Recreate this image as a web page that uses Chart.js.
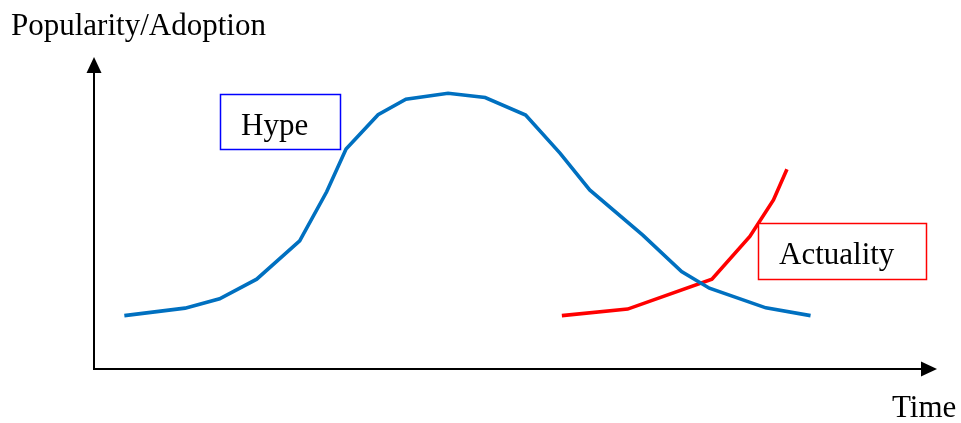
<!DOCTYPE html>
<html>
<head>
<meta charset="utf-8">
<script src="https://cdn.jsdelivr.net/npm/chart.js@4/dist/chart.umd.min.js"></script>
<style>
  html, body { margin: 0; padding: 0; background: #ffffff; }
  #wrap { width: 961px; height: 423px; position: relative; }
</style>
</head>
<body>
<div id="wrap"><canvas id="c" width="961" height="423"></canvas></div>
<script>
// Time positions (0..100) and popularity values (0..100)
const hypeTime = [3.6, 10.8, 14.9, 19.3, 24.4, 27.6, 29.9, 33.7, 37.0, 42.0, 46.4, 51.2, 55.3, 58.8, 65.1, 69.7, 73.0, 79.7, 85.0];
const hypeValues = [17.1, 19.5, 22.5, 28.8, 41.1, 56.8, 70.5, 81.5, 86.5, 88.4, 87.0, 81.4, 69.1, 57.4, 42.9, 31.2, 25.9, 19.6, 17.1];
const actualTime = [55.5, 63.3, 73.3, 77.8, 80.6, 82.2];
const actualValues = [17.1, 19.2, 28.8, 42.5, 54.2, 64.0];

const yAxisTitle = "Popularity/Adoption";
const xAxisTitle = "Time";
const hypeLabel = "Hype";
const actualLabel = "Actuality";

const FONT = "31px 'Liberation Serif', 'Times New Roman', serif";

const toPoints = (xs, ys) => xs.map((x, i) => ({ x: x, y: ys[i] }));

const decor = {
  id: 'decor',
  beforeDatasetsDraw(chart) {
    const ctx = chart.ctx;
    const a = chart.chartArea;
    ctx.save();
    ctx.strokeStyle = '#000';
    ctx.fillStyle = '#000';
    ctx.lineWidth = 2;
    // y axis
    ctx.beginPath();
    ctx.moveTo(a.left, a.bottom);
    ctx.lineTo(a.left, a.top + 14);
    ctx.stroke();
    ctx.beginPath();
    ctx.moveTo(a.left, a.top);
    ctx.lineTo(a.left - 7.5, a.top + 16);
    ctx.lineTo(a.left + 7.5, a.top + 16);
    ctx.closePath();
    ctx.fill();
    // x axis
    ctx.beginPath();
    ctx.moveTo(a.left - 1, a.bottom);
    ctx.lineTo(a.right - 14, a.bottom);
    ctx.stroke();
    ctx.beginPath();
    ctx.moveTo(a.right, a.bottom);
    ctx.lineTo(a.right - 16, a.bottom - 7.5);
    ctx.lineTo(a.right - 16, a.bottom + 7.5);
    ctx.closePath();
    ctx.fill();
    ctx.restore();
  },
  afterDatasetsDraw(chart) {
    const ctx = chart.ctx;
    ctx.save();
    ctx.font = FONT;
    ctx.textBaseline = 'alphabetic';
    ctx.fillStyle = '#000';
    // axis titles
    ctx.fillText(yAxisTitle, 11, 35);
    ctx.fillText(xAxisTitle, 892, 417);
    // Hype box
    ctx.fillStyle = '#fff';
    ctx.fillRect(220, 94, 120, 55);
    ctx.strokeStyle = '#0000ff';
    ctx.lineWidth = 1.5;
    ctx.strokeRect(220.5, 94.5, 120, 55);
    ctx.fillStyle = '#000';
    ctx.fillText(hypeLabel, 241, 135);
    // Actuality box
    ctx.fillStyle = '#fff';
    ctx.fillRect(758, 223, 168, 56);
    ctx.strokeStyle = '#ff0000';
    ctx.lineWidth = 1.5;
    ctx.strokeRect(758.5, 223.5, 168, 56);
    ctx.fillStyle = '#000';
    ctx.fillText(actualLabel, 779, 264);
    ctx.restore();
  }
};

new Chart(document.getElementById('c'), {
  type: 'line',
  data: {
    datasets: [
      {
        label: hypeLabel,
        data: toPoints(hypeTime, hypeValues),
        borderColor: '#0070C0',
        borderWidth: 3.6,
        pointRadius: 0,
        tension: 0,
        fill: false,
        clip: false
      },
      {
        label: actualLabel,
        data: toPoints(actualTime, actualValues),
        borderColor: '#FF0000',
        borderWidth: 3.6,
        pointRadius: 0,
        tension: 0,
        fill: false,
        clip: false
      }
    ]
  },
  options: {
    responsive: false,
    animation: false,
    devicePixelRatio: 1,
    layout: { padding: { left: 94, right: 24, top: 57, bottom: 54 } },
    plugins: { legend: { display: false }, tooltip: { enabled: false } },
    scales: {
      x: { type: 'linear', min: 0, max: 100, display: false },
      y: { type: 'linear', min: 0, max: 100, display: false }
    }
  },
  plugins: [decor]
});
</script>
</body>
</html>
